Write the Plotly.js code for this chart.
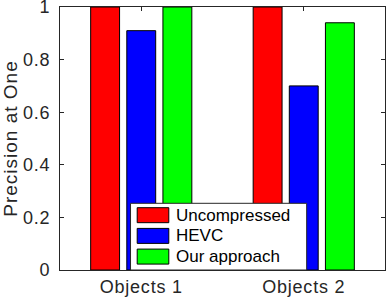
<!DOCTYPE html>
<html>
<head>
<meta charset="utf-8">
<script src="https://cdn.plot.ly/plotly-3.0.1.min.js"></script>
<style>
html,body{margin:0;padding:0;background:#fff;}
#chart{width:386px;height:298px;}
.xtick text, .ytick text { letter-spacing: 0.8px; }
.g-ytitle text { letter-spacing: 1px; }
</style>
</head>
<body>
<div id="chart"></div>
<script>
var categories = ["Objects 1", "Objects 2"];
var seriesNames = ["Uncompressed", "HEVC", "Our approach"];
var uncompressed = [1.0, 1.0];
var hevc = [0.91, 0.70];
var ourApproach = [1.0, 0.94];
var yTickVals = [0, 0.2, 0.4, 0.6, 0.8, 1];
var yTickText = ["0", "0.2", "0.4", "0.6", "0.8", "1"];

var colors = ["#ff0000", "#0000ff", "#00ff00"];
var values = [uncompressed, hevc, ourApproach];
var xpos = categories.map(function(c, i){ return i + 1; });

var traces = values.map(function(v, i){
  return {
    type: "bar", name: seriesNames[i], x: xpos, y: v,
    marker: {color: colors[i], line: {color: "#000000", width: 1}},
    hoverinfo: "none", showlegend: false
  };
});

var txt = "#262626";

// Legend box (drawn in paper coordinates, like a MATLAB legend)
var lg = {x0: 0.217, x1: 0.759, y0: 0.0, y1: 0.2536,
          sx0: 0.2375, sx1: 0.3348, tx: 0.351,
          rows: [0.2084, 0.1297, 0.0510], half: 0.0285};
var shapes = [{
  type: "rect", xref: "paper", yref: "paper",
  x0: lg.x0, x1: lg.x1, y0: lg.y0, y1: lg.y1,
  fillcolor: "#ffffff", line: {color: txt, width: 1}, layer: "above"
}];
var annotations = [];
seriesNames.forEach(function(name, i){
  shapes.push({
    type: "rect", xref: "paper", yref: "paper",
    x0: lg.sx0, x1: lg.sx1, y0: lg.rows[i] - lg.half, y1: lg.rows[i] + lg.half,
    fillcolor: colors[i], line: {color: "#000000", width: 1}, layer: "above"
  });
  annotations.push({
    xref: "paper", yref: "paper", x: lg.tx, y: lg.rows[i],
    xanchor: "left", yanchor: "middle", showarrow: false,
    text: name, font: {size: 17, color: "#000000"}
  });
});

var layout = {
  width: 386, height: 298,
  margin: {l: 60, r: 1, t: 7, b: 28},
  paper_bgcolor: "#ffffff", plot_bgcolor: "#ffffff",
  font: {family: "Liberation Sans, Arial, sans-serif", size: 18, color: txt},
  barmode: "group", bargap: 0.333, bargroupgap: 0.2,
  showlegend: false,
  shapes: shapes,
  annotations: annotations,
  xaxis: {
    range: [0.5, 2.5], tickvals: xpos, ticktext: categories,
    ticks: "inside", ticklen: 4, tickcolor: txt, mirror: "ticks",
    showline: true, linecolor: txt, linewidth: 1, showgrid: false, zeroline: false,
    tickfont: {size: 18, color: txt}, fixedrange: true
  },
  yaxis: {
    range: [0, 1], tickvals: yTickVals, ticktext: yTickText,
    ticks: "inside", ticklen: 4, tickcolor: txt, mirror: "ticks",
    showline: true, linecolor: txt, linewidth: 1, showgrid: false, zeroline: false,
    tickfont: {size: 18, color: txt}, ticklabelstandoff: 5, ticklabeloverflow: "allow",
    title: {text: "Precision at One", font: {size: 19, color: txt}, standoff: 8},
    fixedrange: true
  }
};

Plotly.newPlot("chart", traces, layout, {displayModeBar: false, staticPlot: true});
</script>
</body>
</html>
